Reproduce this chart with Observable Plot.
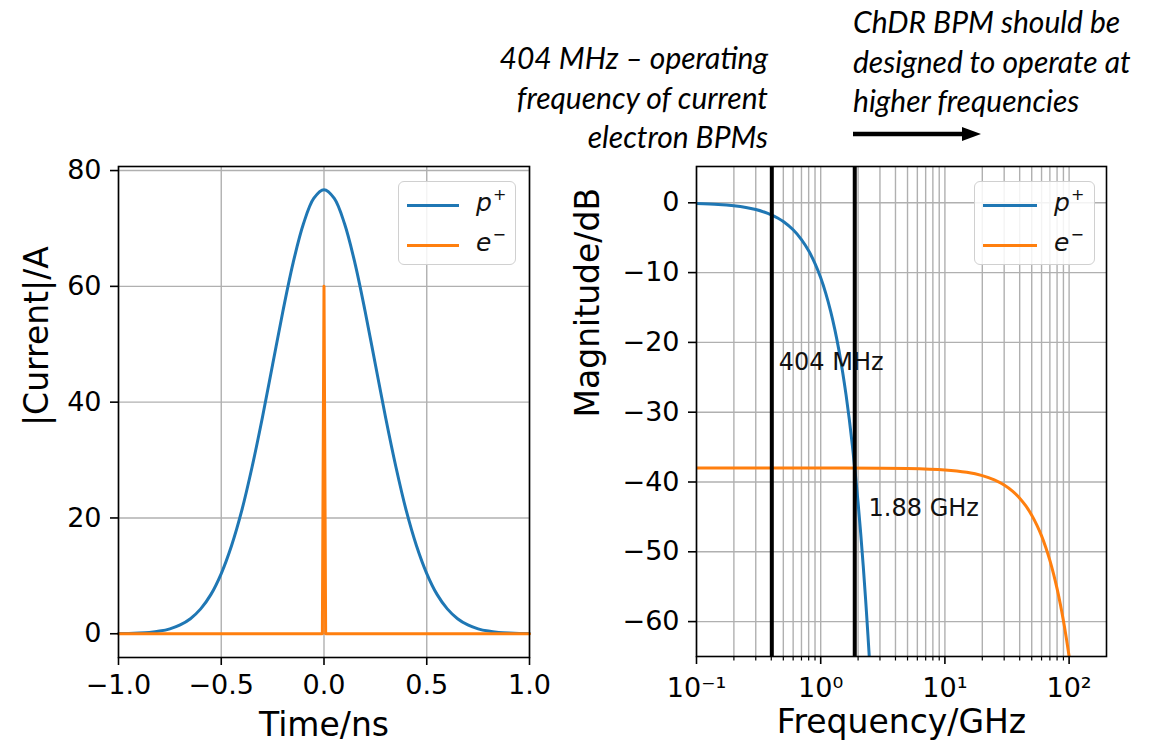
<!DOCTYPE html>
<html>
<head>
<meta charset="utf-8">
<script src="https://cdn.jsdelivr.net/npm/d3@7"></script>
<script src="https://cdn.jsdelivr.net/npm/@observablehq/plot@0.6"></script>
<style>
  html, body { margin: 0; padding: 0; background: #fff; }
  #page { position: relative; width: 1174px; height: 749px; overflow: hidden; background: #fff; font-family: "DejaVu Sans", sans-serif; }
  #page svg.plot { position: absolute; top: 0; }
  .note { position: absolute; font-family: Lato, "Open Sans", sans-serif; font-style: italic; font-size: 30px; line-height: 39.5px; color: #000; white-space: nowrap; }
  .legend { position: absolute; border: 1.5px solid #d0d0d0; border-radius: 6px; background: rgba(255,255,255,0.85); box-sizing: border-box; }
  .legend .row { position: absolute; left: 0; right: 0; height: 0; }
  .legend .swatch { position: absolute; height: 3px; margin-top: -1.5px; }
  .legend .lab { position: absolute; font-family: "DejaVu Sans", sans-serif; font-size: 25px; line-height: 25px; margin-top: -15px; color: #111; }
  .legend .lab i { font-style: oblique; }
  .legend .lab sup { font-size: 16px; vertical-align: 0; position: relative; top: -11px; margin-left: 1px; }
</style>
</head>
<body>
<div id="page"></div>
<script>
// ---------- data ----------
const blue = "#1f77b4";
const orange = "#ff7f0e";

// Left panel: current vs time
const timeNs = [-1.0,-0.95,-0.9,-0.85,-0.8,-0.75,-0.7,-0.65,-0.6,-0.55,-0.5,-0.45,-0.4,-0.35,-0.3,-0.25,-0.2,-0.15,-0.1,-0.05,0,
                0.05,0.1,0.15,0.2,0.25,0.3,0.35,0.4,0.45,0.5,0.55,0.6,0.65,0.7,0.75,0.8,0.85,0.9,0.95,1.0];
const protonCurrent = [0.03,0.05,0.12,0.24,0.46,0.85,1.52,2.6,4.3,6.8,10.4,15.2,21.3,28.8,37.3,46.5,55.7,64.1,70.8,75.2,76.7,
                       75.2,70.8,64.1,55.7,46.5,37.3,28.8,21.3,15.2,10.4,6.8,4.3,2.6,1.52,0.85,0.46,0.24,0.12,0.05,0.03];
const electronTimeNs = [-1.0,-0.008,0,0.008,1.0];
const electronCurrent = [0,0,60,0,0];

// Right panel: magnitude vs frequency
const protonFreqGHz = [0.1,0.15,0.2,0.25,0.3,0.35,0.4,0.45,0.5,0.6,0.7,0.8,0.9,1.0,1.1,1.2,1.3,1.4,1.5,1.6,1.7,1.8,1.9,2.0,2.1,2.2,2.3,2.4,2.46];
const protonDb = [-0.11,-0.24,-0.43,-0.67,-0.97,-1.32,-1.72,-2.18,-2.69,-3.87,-5.27,-6.88,-8.71,-10.75,-13.01,-15.48,-18.17,-21.07,-24.19,-27.52,-31.07,-34.83,-38.81,-43.0,-47.41,-52.03,-56.87,-61.92,-65.0];
const electronFreqGHz = [0.1,1,5,10,15,20,25,30,35,40,45,50,55,60,65,70,75,80,85,90,95,100];
const electronDb = [-38.0,-38.0,-38.07,-38.27,-38.61,-39.08,-39.69,-40.43,-41.31,-42.32,-43.47,-44.75,-46.17,-47.72,-49.41,-51.23,-53.19,-55.28,-57.51,-59.87,-62.37,-65.0];

const markerFreqGHz = [0.404, 1.88];
const markerLabels = ["404 MHz", "1.88 GHz"];
const markerLabelFreqGHz = [0.46, 2.43];
const markerLabelDb = [-22.9, -43.7];

// Ticks
const leftXTicks = [-1, -0.5, 0, 0.5, 1];
const leftYTicks = [0, 20, 40, 60, 80];
const rightXTicks = [0.1, 1, 10, 100];
const rightXTickLabels = ["10\u207B\u00B9", "10\u2070", "10\u00B9", "10\u00B2"];
const rightXMinorTicks = [0.2,0.3,0.4,0.5,0.6,0.7,0.8,0.9,2,3,4,5,6,7,8,9,20,30,40,50,60,70,80,90];
const rightYTicks = [0, -10, -20, -30, -40, -50, -60];

const seriesNames = ["p", "e"];
const seriesCharges = ["+", "\u2212"];
const seriesColors = [blue, orange];

const leftXLabel = "Time/ns";
const leftYLabel = "|Current|/A";
const rightXLabel = "Frequency/GHz";
const rightYLabel = "Magnitude/dB";

const noteLeft = ["404 MHz \u2013 operating", "frequency of current", "electron BPMs"];
const noteRight = ["ChDR BPM should be", "designed to operate at", "higher frequencies"];

// ---------- build ----------
const protonTime = timeNs.map((t, i) => ({t, v: protonCurrent[i]}));
const electronTime = electronTimeNs.map((t, i) => ({t, v: electronCurrent[i]}));
const protonFreq = protonFreqGHz.map((f, i) => ({f, v: protonDb[i]}));
const electronFreq = electronFreqGHz.map((f, i) => ({f, v: electronDb[i]}));
const markerText = markerLabels.map((s, i) => ({s, f: markerLabelFreqGHz[i], v: markerLabelDb[i]}));

const gridStyle = {stroke: "#b0b0b0", strokeOpacity: 1, strokeWidth: 1.4};
const baseStyle = {fontFamily: "'DejaVu Sans', sans-serif", fontSize: "27px", color: "#000", background: "transparent", overflow: "visible"};

const leftPlot = Plot.plot({
  width: 560, height: 749,
  marginLeft: 118, marginRight: 31, marginTop: 166, marginBottom: 92,
  style: baseStyle,
  x: {domain: [-1, 1]},
  y: {domain: [-4.1, 80.7]},
  marks: [
    Plot.gridX(leftXTicks, gridStyle),
    Plot.gridY(leftYTicks, gridStyle),
    Plot.line(protonTime, {x: "t", y: "v", stroke: blue, strokeWidth: 3, curve: "catmull-rom"}),
    Plot.line(electronTime, {x: "t", y: "v", stroke: orange, strokeWidth: 3}),
    Plot.frame({stroke: "#000", strokeWidth: 1.6}),
    Plot.axisX(leftXTicks, {tickSize: 8, tickPadding: 9, strokeWidth: 1.6, tickFormat: d3.format(".1f"), label: null}),
    Plot.axisY(leftYTicks, {tickSize: 8, tickPadding: 9, strokeWidth: 1.6, tickFormat: d3.format("d"), label: null}),
    Plot.text([leftXLabel], {frameAnchor: "bottom", dy: 68, fontSize: 33, lineAnchor: "middle"}),
    Plot.text([leftYLabel], {frameAnchor: "left", rotate: -90, dx: -81, dy: 14, fontSize: 33, lineAnchor: "middle"})
  ]
});
leftPlot.classList.add("plot");
leftPlot.style.left = "0px";

const rightPlot = Plot.plot({
  width: 594, height: 749,
  marginLeft: 116, marginRight: 68, marginTop: 166, marginBottom: 93,
  style: baseStyle,
  x: {type: "log", domain: [0.1, 200]},
  y: {domain: [-65, 5.2]},
  marks: [
    Plot.gridX(rightXMinorTicks, gridStyle),
    Plot.gridX(rightXTicks, gridStyle),
    Plot.gridY(rightYTicks, gridStyle),
    Plot.line(protonFreq, {x: "f", y: "v", stroke: blue, strokeWidth: 3, curve: "catmull-rom", clip: true}),
    Plot.line(electronFreq, {x: "f", y: "v", stroke: orange, strokeWidth: 3, curve: "catmull-rom", clip: true}),
    Plot.ruleX(markerFreqGHz, {stroke: "#000", strokeWidth: 4}),
    Plot.text(markerText, {x: "f", y: "v", text: "s", textAnchor: "start", fontSize: 24, fill: "#111", lineAnchor: "middle"}),
    Plot.frame({stroke: "#000", strokeWidth: 1.6}),
    Plot.axisX(rightXMinorTicks, {tickSize: 4.5, strokeWidth: 1.2, tickFormat: () => "", label: null}),
    Plot.axisX(rightXTicks, {tickSize: 8, tickPadding: 13, strokeWidth: 1.6, tickFormat: d => rightXTickLabels[rightXTicks.indexOf(d)], label: null}),
    Plot.axisY(rightYTicks, {tickSize: 8, tickPadding: 9, strokeWidth: 1.6, tickFormat: d3.format("d"), label: null}),
    Plot.text([rightXLabel], {frameAnchor: "bottom", dy: 66, fontSize: 33, lineAnchor: "middle"}),
    Plot.text([rightYLabel], {frameAnchor: "left", rotate: -90, dx: -108, dy: 6, fontSize: 33, lineAnchor: "middle"})
  ]
});
rightPlot.classList.add("plot");
rightPlot.style.left = "580px";

const page = document.getElementById("page");
page.appendChild(leftPlot);
page.appendChild(rightPlot);

// legends
function addLegend(left, top, width, height, swLeft, swWidth, labLeft) {
  const box = document.createElement("div");
  box.className = "legend";
  Object.assign(box.style, {left: left + "px", top: top + "px", width: width + "px", height: height + "px"});
  seriesNames.forEach((name, i) => {
    const row = document.createElement("div");
    row.className = "row";
    row.style.top = (23 + i * 40) + "px";
    const sw = document.createElement("div");
    sw.className = "swatch";
    Object.assign(sw.style, {left: swLeft + "px", width: swWidth + "px", background: seriesColors[i]});
    const lab = document.createElement("div");
    lab.className = "lab";
    lab.style.left = labLeft + "px";
    lab.innerHTML = `<i>${name}</i><sup>${seriesCharges[i]}</sup>`;
    row.appendChild(sw);
    row.appendChild(lab);
    box.appendChild(row);
  });
  page.appendChild(box);
}
addLegend(398, 181, 118, 84, 8, 52, 77);
addLegend(974, 181, 121, 84, 8, 54, 79);

// annotations
function addNote(lines, style) {
  const d = document.createElement("div");
  d.className = "note";
  Object.assign(d.style, style);
  d.innerHTML = lines.join("<br>");
  page.appendChild(d);
}
addNote(noteLeft, {right: (1174 - 768) + "px", top: "38px", textAlign: "right"});
addNote(noteRight, {left: "853px", top: "2px", textAlign: "left"});

// arrow
const arrow = document.createElementNS("http://www.w3.org/2000/svg", "svg");
arrow.setAttribute("width", "140");
arrow.setAttribute("height", "24");
Object.assign(arrow.style, {position: "absolute", left: "850px", top: "122px"});
arrow.innerHTML = `<line x1="3" y1="12" x2="114" y2="12" stroke="#000" stroke-width="4.5"/><polygon points="112,5 131,12 112,19" fill="#000"/>`;
page.appendChild(arrow);
</script>
</body>
</html>
